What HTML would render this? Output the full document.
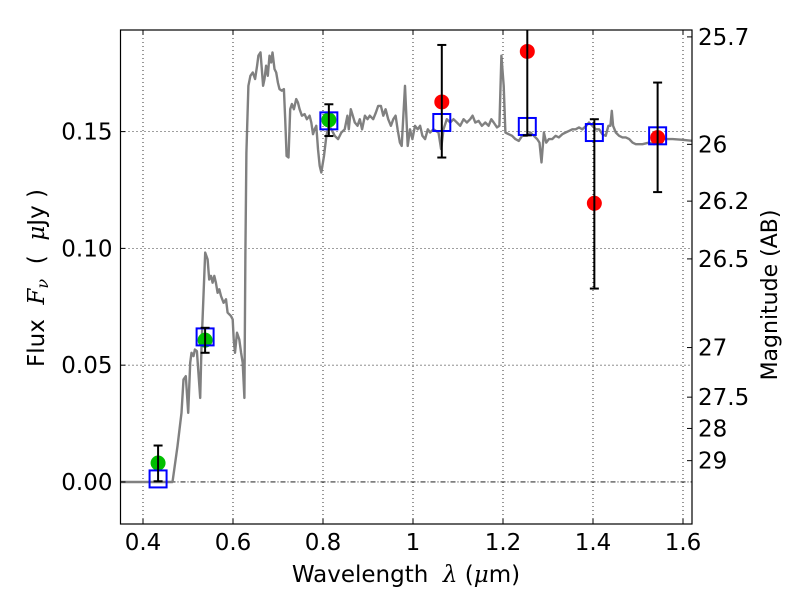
<!DOCTYPE html>
<html><head><meta charset="utf-8"><style>
html,body{margin:0;padding:0;background:#fff;}
svg{display:block;font-family:"DejaVu Sans","Liberation Sans",sans-serif;}
</style></head><body>
<svg id="chart" width="800" height="600" viewBox="0 0 800 600" xmlns="http://www.w3.org/2000/svg"></svg>
<script>
// ---- data ----
const specLambda = [0.350,0.4655,0.4766,0.4855,0.4900,0.4952,0.5004,0.5049,0.5078,0.5123,0.5153,0.5197,0.5227,0.5272,0.5301,0.5346,0.5383,0.5435,0.5472,0.5510,0.5547,0.5584,0.5621,0.5658,0.5695,0.5733,0.5792,0.5844,0.5881,0.5956,0.5993,0.6015,0.6045,0.6089,0.6141,0.6179,0.6216,0.6253,0.6275,0.6298,0.6342,0.6387,0.6439,0.6491,0.6536,0.6565,0.6610,0.6640,0.6669,0.6699,0.6736,0.6773,0.6811,0.6848,0.6878,0.6922,0.6959,0.6997,0.7034,0.7086,0.7130,0.7160,0.7190,0.7234,0.7272,0.7309,0.7353,0.7405,0.7443,0.7480,0.7532,0.7591,0.7643,0.7703,0.7740,0.7777,0.7814,0.7852,0.7889,0.7926,0.7963,0.8023,0.8075,0.8127,0.8186,0.8260,0.8335,0.8409,0.8483,0.8543,0.8573,0.8617,0.8662,0.8707,0.8766,0.8818,0.8870,0.8930,0.8989,0.9041,0.9115,0.9175,0.9227,0.9287,0.9339,0.9391,0.9450,0.9510,0.9562,0.9614,0.9658,0.9710,0.9748,0.9822,0.9882,0.9934,0.9986,1.0045,1.0105,1.0157,1.0209,1.0268,1.0328,1.0380,1.0454,1.0566,1.0625,1.0677,1.0752,1.0826,1.0900,1.0975,1.1049,1.1124,1.1198,1.1272,1.1324,1.1384,1.1458,1.1532,1.1607,1.1681,1.1741,1.1793,1.1867,1.1919,1.1964,1.2016,1.2053,1.2127,1.2202,1.2276,1.2350,1.2425,1.2536,1.2610,1.2685,1.2759,1.2811,1.2856,1.2908,1.2960,1.3019,1.3094,1.3168,1.3243,1.3317,1.3391,1.3466,1.3540,1.3614,1.3689,1.3763,1.3852,1.3912,1.3986,1.4060,1.4135,1.4209,1.4283,1.4343,1.4387,1.4417,1.4447,1.4506,1.4581,1.4655,1.4729,1.4804,1.4878,1.4952,1.5101,1.5250,1.5361,1.5473,1.5622,1.5770,1.5993,1.6216,1.626];
const specFlux = [0.0000,0.0000,0.0153,0.0296,0.0439,0.0453,0.0296,0.0510,0.0553,0.0539,0.0567,0.0560,0.0482,0.0360,0.0582,0.0810,0.0982,0.0953,0.0867,0.0882,0.0853,0.0882,0.0853,0.0810,0.0825,0.0796,0.0767,0.0782,0.0725,0.0710,0.0696,0.0610,0.0553,0.0639,0.0610,0.0553,0.0510,0.0360,0.0982,0.1410,0.1696,0.1739,0.1753,0.1725,0.1782,0.1825,0.1839,0.1768,0.1696,0.1725,0.1782,0.1739,0.1825,0.1796,0.1839,0.1768,0.1753,0.1710,0.1682,0.1675,0.1682,0.1553,0.1396,0.1389,0.1596,0.1618,0.1596,0.1639,0.1625,0.1596,0.1568,0.1575,0.1553,0.1568,0.1539,0.1489,0.1510,0.1525,0.1425,0.1353,0.1325,0.1396,0.1482,0.1525,0.1510,0.1482,0.1468,0.1496,0.1510,0.1568,0.1510,0.1596,0.1568,0.1539,0.1525,0.1553,0.1510,0.1568,0.1553,0.1568,0.1553,0.1582,0.1610,0.1610,0.1568,0.1596,0.1553,0.1525,0.1553,0.1568,0.1510,0.1453,0.1439,0.1696,0.1439,0.1510,0.1468,0.1525,0.1510,0.1525,0.1482,0.1468,0.1510,0.1496,0.1510,0.1496,0.1425,0.1510,0.1553,0.1539,0.1553,0.1539,0.1525,0.1553,0.1539,0.1553,0.1568,0.1539,0.1546,0.1525,0.1539,0.1525,0.1553,0.1539,0.1518,0.1525,0.1825,0.1696,0.1496,0.1489,0.1482,0.1468,0.1460,0.1482,0.1482,0.1496,0.1482,0.1468,0.1453,0.1368,0.1496,0.1453,0.1468,0.1468,0.1482,0.1475,0.1489,0.1496,0.1503,0.1510,0.1510,0.1518,0.1510,0.1525,0.1539,0.1525,0.1510,0.1510,0.1489,0.1482,0.1525,0.1525,0.1589,0.1525,0.1496,0.1482,0.1475,0.1475,0.1468,0.1453,0.1446,0.1446,0.1453,0.1446,0.1475,0.1468,0.1468,0.1465,0.1460,0.1460];
const obsLambda = [0.4335,0.538,0.813,1.064,1.254,1.403,1.5436];
const obsFlux = [0.0081,0.0607,0.155,0.1627,0.1843,0.1193,0.1474];
const obsErrLow = [0.0003,0.0553,0.1481,0.1389,0.1484,0.0828,0.1241];
const obsErrHigh = [0.0156,0.0660,0.1617,0.1871,0.2200,0.1553,0.1710];
const obsColor = ['#00bf00','#00bf00','#00bf00','#ff0000','#ff0000','#ff0000','#ff0000'];
const modelFlux = [0.0013,0.0621,0.1546,0.1539,0.1522,0.1496,0.1482];
const xTicks = [0.4,0.6,0.8,1.0,1.2,1.4,1.6];
const xTickLabels = ['0.4','0.6','0.8','1','1.2','1.4','1.6'];
const yTicks = [0.00,0.05,0.10,0.15];
const yTickLabels = ['0.00','0.05','0.10','0.15'];
const magTicks = [25.7,26,26.2,26.45,27,27.5,28,29];
const magTickLabels = ['25.7','26','26.2','26.5','27','27.5','28','29'];

// ---- axes ----
const L=120.5,R=692,T=30,B=524;
const xMin=0.35,xMax=1.62,yMin=-0.018,yMax=0.1935;
const X=v=>L+(v-xMin)/(xMax-xMin)*(R-L);
const Y=v=>B-(v-yMin)/(yMax-yMin)*(B-T);
const magToFlux=m=>Math.pow(10,-0.4*(m-23.9));
const svg=document.getElementById('chart');
const NS='http://www.w3.org/2000/svg';
function mk(tag,attrs,parent){const e=document.createElementNS(NS,tag);for(const k in attrs)e.setAttribute(k,attrs[k]);(parent||svg).appendChild(e);return e;}

const defs=mk('defs',{});
const cp=mk('clipPath',{id:'plotclip'},defs);
mk('rect',{x:L,y:T,width:R-L,height:B-T},cp);

// grid
const grid=mk('g',{});


xTicks.forEach(v=>{mk('line',{x1:X(v),x2:X(v),y1:T,y2:B,stroke:'#000','stroke-width':0.8,'stroke-dasharray':'1,3'},grid);});
yTicks.forEach(v=>{if(v===0)return;mk('line',{x1:L,x2:R,y1:Y(v),y2:Y(v),stroke:'#000','stroke-width':0.8,'stroke-dasharray':'1,3'},grid);});
const zl=mk('line',{x1:L,x2:R,y1:Y(0),y2:Y(0),stroke:'#000','stroke-width':0.8,'stroke-dasharray':'5,2,1,2'});



// spectrum
let d='';
specLambda.forEach((l,i)=>{d+=(i?'L':'M')+X(l).toFixed(1)+','+Y(specFlux[i]).toFixed(1);});
const sp=mk('path',{d:d,fill:'none',stroke:'#808080','stroke-width':2.4,'stroke-linejoin':'round','clip-path':'url(#plotclip)'});



// observed points
const pts=mk('g',{'clip-path':'url(#plotclip)'});


obsLambda.forEach((l,i)=>{
  const c=mk('circle',{cx:X(l),cy:Y(obsFlux[i]),r:7.5,fill:obsColor[i]},pts);
  
  
});
obsLambda.forEach((l,i)=>{
  const s=mk('rect',{x:X(l)-8.5,y:Y(modelFlux[i])-8.5,width:17,height:17,fill:'none',stroke:'#0000ff','stroke-width':2},pts);
  
  
});
obsLambda.forEach((l,i)=>{
  const g=mk('g',{stroke:'#000','stroke-width':2},pts);
  
  
  const x=X(l);
  mk('line',{x1:x,x2:x,y1:Y(obsErrLow[i]),y2:Y(obsErrHigh[i])},g);
  mk('line',{x1:x-4.5,x2:x+4.5,y1:Y(obsErrLow[i]),y2:Y(obsErrLow[i])},g);
  mk('line',{x1:x-4.5,x2:x+4.5,y1:Y(obsErrHigh[i]),y2:Y(obsErrHigh[i])},g);
});

// frame
const fr=mk('rect',{x:L,y:T,width:R-L,height:B-T,fill:'none',stroke:'#000','stroke-width':1.2});



// ticks & labels
const xa=mk('g',{});


xTicks.forEach((v,i)=>{
  mk('line',{x1:X(v),x2:X(v),y1:B,y2:B-5,stroke:'#000'},xa);
  mk('line',{x1:X(v),x2:X(v),y1:T,y2:T+5,stroke:'#000'},xa);
  const t=mk('text',{x:X(v),y:B+26,'font-size':23,'text-anchor':'middle'},xa);
  t.textContent=xTickLabels[i];
  
  
});
const ya=mk('g',{});


yTicks.forEach((v,i)=>{
  mk('line',{x1:L,x2:L+5,y1:Y(v),y2:Y(v),stroke:'#000'},ya);
  const t=mk('text',{x:L-8,y:Y(v)+8,'font-size':23,'text-anchor':'end'},ya);
  t.textContent=yTickLabels[i];
  
  
});
const ra=mk('g',{});


magTicks.forEach((m,i)=>{
  const y=Y(magToFlux(m));
  mk('line',{x1:R,x2:R-5,y1:y,y2:y,stroke:'#000'},ra);
  const t=mk('text',{x:R+6,y:y+8,'font-size':23,'text-anchor':'start'},ra);
  t.textContent=magTickLabels[i];
  
  
});

// axis titles
const xt=mk('text',{x:406,y:582,'font-size':23,'text-anchor':'middle'});
xt.innerHTML='Wavelength\u00a0\u00a0<tspan font-style="italic" font-family="DejaVu Serif, serif">λ</tspan>\u00a0(<tspan font-style="italic" font-family="DejaVu Serif, serif">μ</tspan>m)';


const yt=mk('text',{x:0,y:0,'font-size':23,'text-anchor':'middle',transform:'translate(44,278) rotate(-90)'});
yt.innerHTML='Flux\u00a0\u00a0<tspan font-style="italic" font-family="DejaVu Serif, serif">F</tspan><tspan font-style="italic" font-family="DejaVu Serif, serif" font-size="16" dy="4">ν</tspan><tspan dy="-4">\u00a0\u00a0(\u00a0\u00a0</tspan><tspan font-style="italic" font-family="DejaVu Serif, serif">μ</tspan>Jy\u00a0)';


const rt=mk('text',{x:0,y:0,'font-size':22,'text-anchor':'middle',transform:'translate(777,295) rotate(-90)'});
rt.textContent='Magnitude (AB)';


</script>
</body></html>
